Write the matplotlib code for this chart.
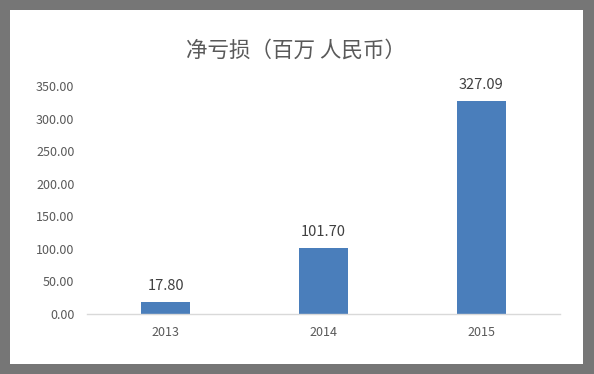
import matplotlib
matplotlib.use("Agg")
import matplotlib.pyplot as plt
from matplotlib.patches import Rectangle

plt.rcParams['font.family'] = ['Noto Sans CJK SC', 'DejaVu Sans']

# data
years = ["2013", "2014", "2015"]
net_loss = [17.80, 101.70, 327.09]
y_ticks = [0, 50, 100, 150, 200, 250, 300, 350]
title = "净亏损（百万 人民币）"

W, H = 594, 374
fig = plt.figure(figsize=(W / 100, H / 100), dpi=100, facecolor="#767676")

# white card inside the gray frame
fig.patches.append(Rectangle((10 / W, 1 - 364 / H), 573 / W, 354 / H,
                             transform=fig.transFigure, facecolor="white",
                             edgecolor="none", zorder=-5))

ax = fig.add_axes([87 / W, 1 - 314 / H, 473 / W, 228 / H])
ax.set_facecolor("none")
ax.set_zorder(2)

xs = range(len(years))
bars = ax.bar(xs, net_loss, width=0.31, color="#4a7ebb", zorder=2)

for b, v in zip(bars, net_loss):
    ax.text(b.get_x() + b.get_width() / 2, v + 14, f"{v:.2f}",
            ha="center", va="bottom", fontsize=10.5, color="#404040")

ax.set_xlim(-0.5, len(years) - 0.5)
ax.set_ylim(0, 350)
ax.set_yticks(y_ticks)
ax.set_yticklabels([f"{t:.2f}" for t in y_ticks])
ax.set_xticks(list(xs))
ax.set_xticklabels(years)
ax.tick_params(axis="both", length=0, labelsize=9, colors="#595959")
ax.tick_params(axis="y", pad=9)
ax.tick_params(axis="x", pad=9)

for side in ("top", "right", "left"):
    ax.spines[side].set_visible(False)
ax.spines["bottom"].set_color("#d9d9d9")
ax.spines["bottom"].set_linewidth(1)

fig.text(296 / W, 1 - 51 / H, title, ha="center", va="center",
         fontsize=15.5, color="#595959", zorder=3)

fig.savefig("out.png", dpi=100, facecolor=fig.get_facecolor())
